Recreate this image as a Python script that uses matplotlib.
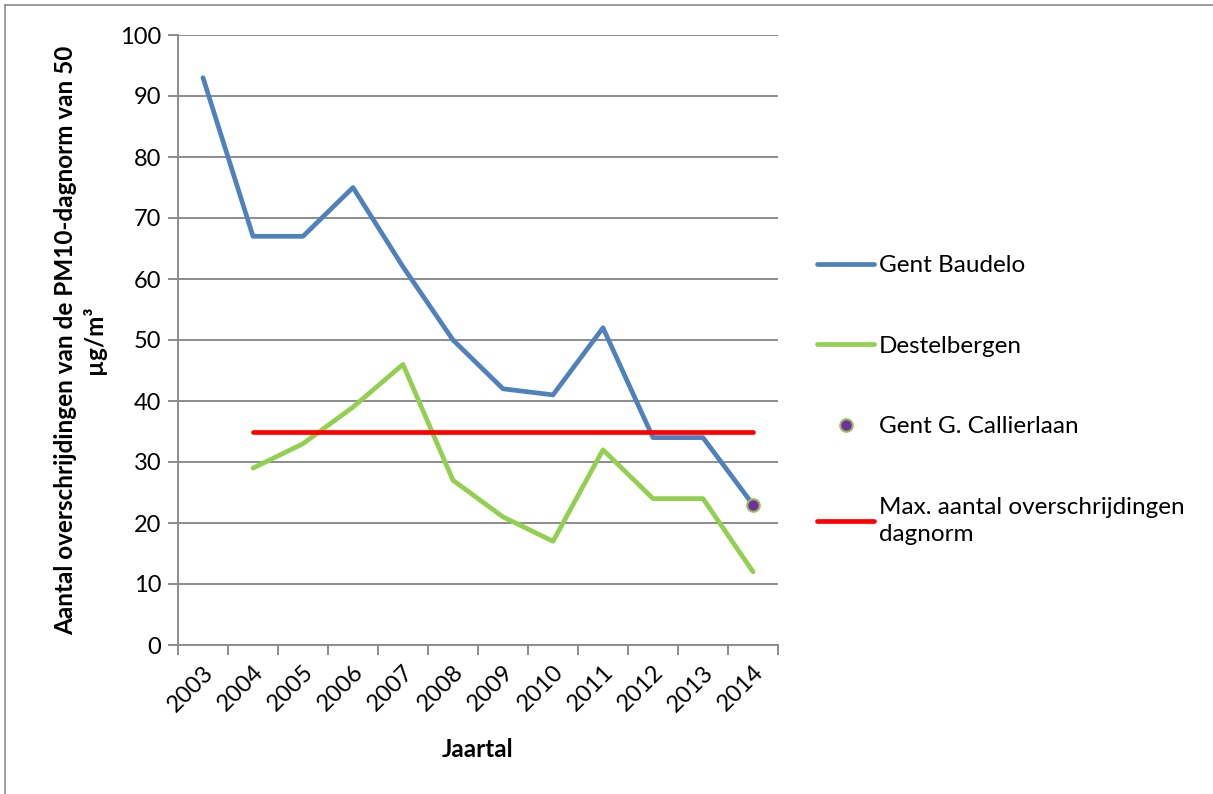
import matplotlib
matplotlib.use("Agg")
import matplotlib.pyplot as plt
from matplotlib.lines import Line2D
import numpy as np

years = ["2003", "2004", "2005", "2006", "2007", "2008", "2009", "2010", "2011", "2012", "2013", "2014"]
gent_baudelo = [93, 67, 67, 75, 62, 50, 42, 41, 52, 34, 34, 23]
destelbergen = [None, 29, 33, 39, 46, 27, 21, 17, 32, 24, 24, 12]
callierlaan = [None, None, None, None, None, None, None, None, None, None, None, 23]
max_norm = [None, 35, 35, 35, 35, 35, 35, 35, 35, 35, 35, 35]

labels = ["Gent Baudelo", "Destelbergen", "Gent G. Callierlaan",
          "Max. aantal overschrijdingen\ndagnorm"]

plt.rcParams['font.family'] = ['Lato', 'DejaVu Sans']

fig = plt.figure(figsize=(12.13, 7.94), dpi=100)
W, H = 1213, 794
ax = fig.add_axes([178 / W, 1 - 645 / H, (778 - 178) / W, (645 - 35) / H])

x = np.arange(len(years))

def arr(v):
    return np.array([np.nan if a is None else a for a in v], dtype=float)

grid_c = "#8c8c8c"
ax.set_ylim(0, 100)
ax.set_xlim(-0.5, len(years) - 0.5)
ax.set_yticks(np.arange(0, 101, 10))
for yv in np.arange(10, 101, 10):
    ax.axhline(yv, color=grid_c, lw=1.4, zorder=0)

l1, = ax.plot(x, arr(gent_baudelo), color="#4F81BD", lw=3.4, solid_capstyle="round",
              solid_joinstyle="round", zorder=3)
l2, = ax.plot(x, arr(destelbergen), color="#92D050", lw=3.4, solid_capstyle="round",
              solid_joinstyle="round", zorder=3)
l4, = ax.plot(x, arr(max_norm), color="#FF0000", lw=3.4, solid_capstyle="round", zorder=4)
l3, = ax.plot(x, arr(callierlaan), ls="none", marker="o", ms=9, mfc="#7030A0",
              mec="#9BBB59", mew=1.5, zorder=5)

for s in ["top", "right"]:
    ax.spines[s].set_visible(False)
for s in ["left", "bottom"]:
    ax.spines[s].set_color(grid_c)
    ax.spines[s].set_linewidth(1.4)

ax.set_xticks(np.arange(-0.5, len(years), 1.0))
ax.set_xticklabels([])
ax.set_xticks(x, minor=True)
ax.set_xticklabels(years, minor=True, rotation=45, ha="right", va="top",
                   rotation_mode="anchor", fontsize=17)
ax.tick_params(axis="x", which="major", length=7, color=grid_c, width=1.4, direction="out")
ax.tick_params(axis="x", which="minor", length=0, pad=12)
ax.tick_params(axis="y", length=7, color=grid_c, width=1.4, labelsize=17, pad=5)

ax.set_xlabel("Jaartal", fontsize=17.5, fontweight="bold", labelpad=16)
ax.set_ylabel("Aantal overschrijdingen van de PM10-dagnorm van 50\nµg/m³",
              fontsize=17.5, fontweight="bold", labelpad=10, linespacing=1.25)

leg = ax.legend([l1, l2, l3, l4], labels, loc="upper left",
                bbox_to_anchor=(817 / W, 1 - 255 / H), bbox_transform=fig.transFigure,
                frameon=False, fontsize=17.5, handlelength=2.35, handletextpad=0.2,
                labelspacing=2.45, borderpad=0, borderaxespad=0)
leg.get_texts()[3].set_linespacing(1.35)

# outer chart border
fig.add_artist(Line2D([5 / W, 5 / W], [0, 1 - 5 / H], transform=fig.transFigure,
                      color="#8c8c8c", lw=1.2))
fig.add_artist(Line2D([5 / W, 1], [1 - 5 / H, 1 - 5 / H], transform=fig.transFigure,
                      color="#8c8c8c", lw=1.2))

fig.savefig("out.png", dpi=100)
